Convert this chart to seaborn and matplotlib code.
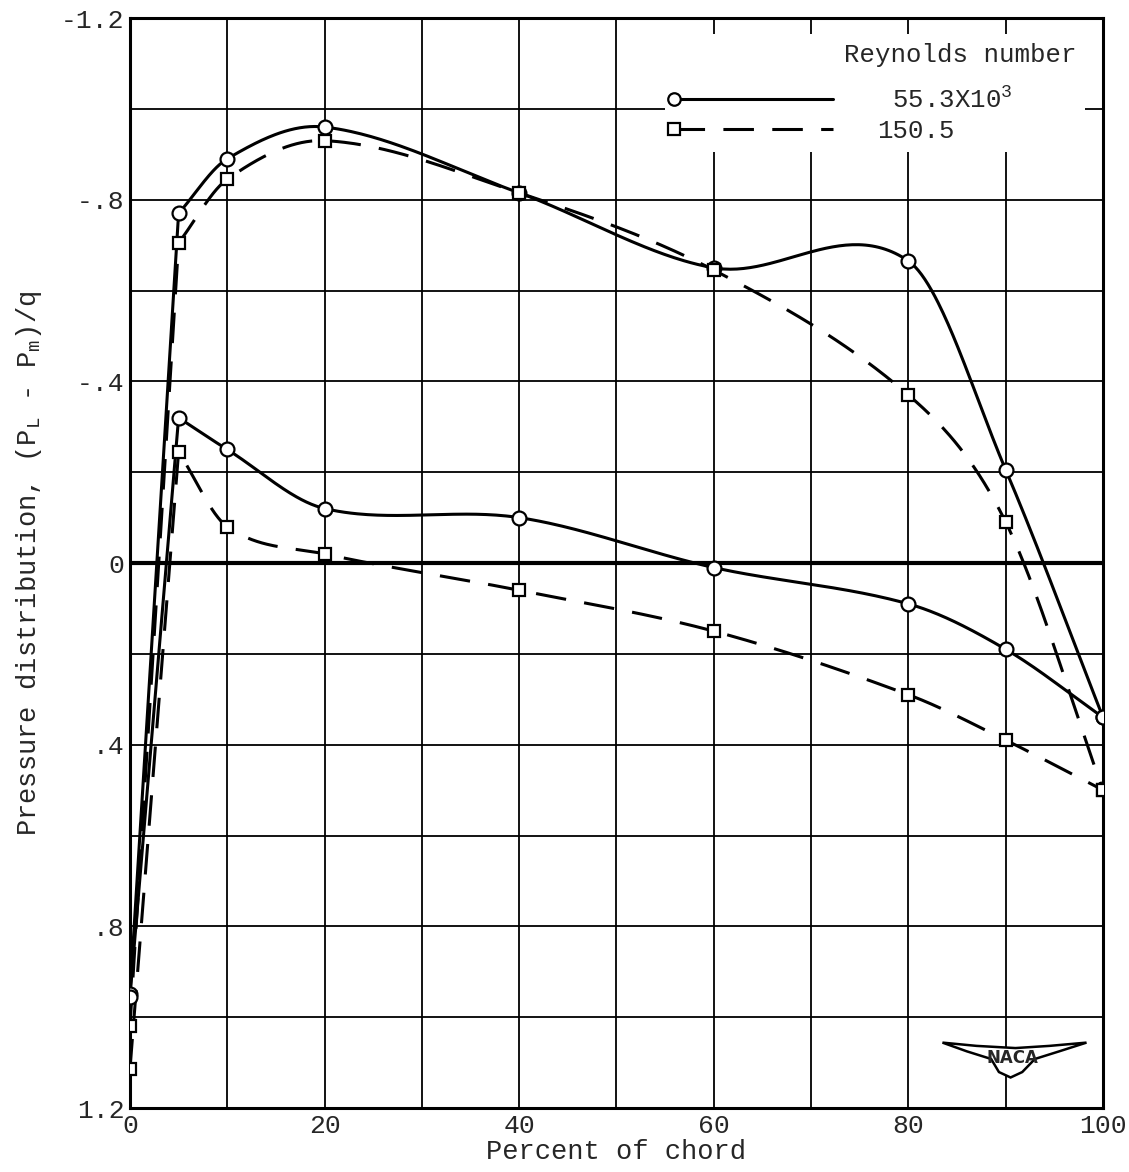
import numpy as np
import pandas as pd
import matplotlib
matplotlib.use("Agg")
import matplotlib.pyplot as plt
import seaborn as sns
from matplotlib.lines import Line2D
from matplotlib.legend_handler import HandlerLine2D

# ---- data ----
chord = [0, 5, 10, 20, 40, 60, 80, 90, 100]
re55_upper = [0.95, -0.77, -0.89, -0.96, -0.815, -0.65, -0.665, -0.205, 0.34]
re55_lower = [0.955, -0.32, -0.25, -0.12, -0.10, 0.01, 0.09, 0.19, 0.34]
re150_upper = [1.02, -0.705, -0.845, -0.93, -0.815, -0.645, -0.37, -0.09, 0.50]
re150_lower = [1.115, -0.245, -0.08, -0.02, 0.06, 0.15, 0.29, 0.39, 0.50]

x_ticks = [0, 20, 40, 60, 80, 100]
y_ticks = [-1.2, -0.8, -0.4, 0.0, 0.4, 0.8, 1.2]
y_tick_labels = ["-1.2", "-.8", "-.4", "0", ".4", ".8", "1.2"]
legend_labels = [" 55.3X10$^{\\mathregular{3}}$     ", "150.5"]

sns.set_style("white")
plt.rcParams["font.family"] = ["Liberation Mono", "DejaVu Sans Mono"]
plt.rcParams["mathtext.fontset"] = "custom"
plt.rcParams["mathtext.rm"] = "Liberation Mono"
plt.rcParams["mathtext.it"] = "Liberation Mono"


def hermite_curve(x, y, n=60):
    """Cardinal (Catmull-Rom style) cubic Hermite curve through the points."""
    x = np.asarray(x, float); y = np.asarray(y, float)
    m = np.empty_like(y)
    m[0] = (y[1] - y[0]) / (x[1] - x[0])
    m[-1] = (y[-1] - y[-2]) / (x[-1] - x[-2])
    m[1:-1] = (y[2:] - y[:-2]) / (x[2:] - x[:-2])
    xs_all, ys_all = [x[0]], [y[0]]
    for i in range(len(x) - 1):
        h = x[i + 1] - x[i]
        t = np.linspace(0, 1, n)[1:]
        h00 = 2 * t**3 - 3 * t**2 + 1
        h10 = t**3 - 2 * t**2 + t
        h01 = -2 * t**3 + 3 * t**2
        h11 = t**3 - t**2
        ys = h00 * y[i] + h10 * h * m[i] + h01 * y[i + 1] + h11 * h * m[i + 1]
        xs_all.extend(x[i] + t * h); ys_all.extend(ys)
    return np.array(xs_all), np.array(ys_all)


def smooth_curve(x, y):
    # straight leading-edge segment, smooth curve over the rest of the chord
    cx, cy = hermite_curve(x[1:], y[1:])
    return np.concatenate([[x[0]], cx]), np.concatenate([[y[0]], cy])


fig = plt.figure(figsize=(11.29, 11.72), dpi=100)
ax = fig.add_axes([0.1151, 0.0546, 0.977 - 0.1151, 0.9846 - 0.0546])

DASH = (0, (10, 6))
series = [
    (re55_upper, "-", "o", 10),
    (re55_lower, "-", "o", 10),
    (re150_upper, DASH, "s", 9),
    (re150_lower, DASH, "s", 9),
]
for vals, ls, mk, ms in series:
    cx, cy = smooth_curve(chord, vals)
    sns.lineplot(x=cx, y=cy, sort=False, estimator=None, ax=ax,
                 color="black", lw=2.2, linestyle=ls, zorder=3)
    df = pd.DataFrame({"chord": chord, "p": vals})
    ax.plot(df["chord"], df["p"], linestyle="none", marker=mk, ms=ms,
            mfc="white", mec="black", mew=1.6, zorder=4)

ax.axhline(0, color="black", lw=3, zorder=2)

ax.set_xlim(0, 100)
ax.set_ylim(1.2, -1.2)
ax.set_xticks(x_ticks)
ax.set_xticks(np.arange(0, 101, 10), minor=True)
ax.set_yticks(y_ticks)
ax.set_yticklabels(y_tick_labels)
ax.set_yticks(np.arange(-1.2, 1.21, 0.2), minor=True)
ax.grid(which="both", color="black", lw=1.3, zorder=1)
ax.tick_params(which="both", length=0, labelsize=19, pad=4)
for s in ax.spines.values():
    s.set_color("black"); s.set_linewidth(2.2)

ax.set_xlabel("Percent of chord", fontsize=19.5, labelpad=1)
ax.set_ylabel("Pressure distribution, (P$_\\mathrm{L}$ - P$_\\mathrm{m}$)/q",
              fontsize=19.5, labelpad=12)


class LeftMarkerHandler(HandlerLine2D):
    """Legend line with the marker drawn only at its left end."""
    def create_artists(self, legend, orig_handle, xdescent, ydescent,
                       width, height, fontsize, trans):
        xdata = np.array([-xdescent, -xdescent + width], float)
        ydata = np.full_like(xdata, (height - ydescent) / 2)
        legline = Line2D(xdata, ydata)
        self.update_prop(legline, orig_handle, legend)
        legline.set_markevery([0])
        legline.set_transform(trans)
        return [legline]


handles = [
    Line2D([], [], color="black", lw=2.2, ls="-", marker="o", ms=9,
           mfc="white", mec="black", mew=1.6),
    Line2D([], [], color="black", lw=2.2, ls=DASH, marker="s", ms=8,
           mfc="white", mec="black", mew=1.6),
]
leg = ax.legend(handles, legend_labels, title="Reynolds number\n", loc="upper right",
                bbox_to_anchor=(0.995, 0.997), fontsize=18.5, title_fontsize=18.5,
                handlelength=6.2, handletextpad=1.7, labelspacing=0.25,
                frameon=True, fancybox=False, borderpad=0.35,
                handler_map={Line2D: LeftMarkerHandler()}, alignment="right")
leg.get_title().set_linespacing(0.45)
leg.get_frame().set_facecolor("white")
leg.get_frame().set_edgecolor("none")
leg.get_frame().set_alpha(1)
leg.set_zorder(5)

# NACA emblem
wing = np.array([[0.835, 0.060], [0.86, 0.052], [0.885, 0.045], [0.893, 0.033],
                 [0.905, 0.028], [0.917, 0.033], [0.93, 0.045], [0.955, 0.052],
                 [0.983, 0.060], [0.945, 0.057], [0.91, 0.055], [0.87, 0.057]])
ax.fill(wing[:, 0], wing[:, 1], transform=ax.transAxes, facecolor="white",
        edgecolor="black", lw=1.8, zorder=5)
ax.text(0.907, 0.046, "NACA", transform=ax.transAxes, ha="center", va="center",
        fontsize=12, family="DejaVu Sans", fontweight="bold", zorder=6)

fig.savefig("out.png", dpi=100)
